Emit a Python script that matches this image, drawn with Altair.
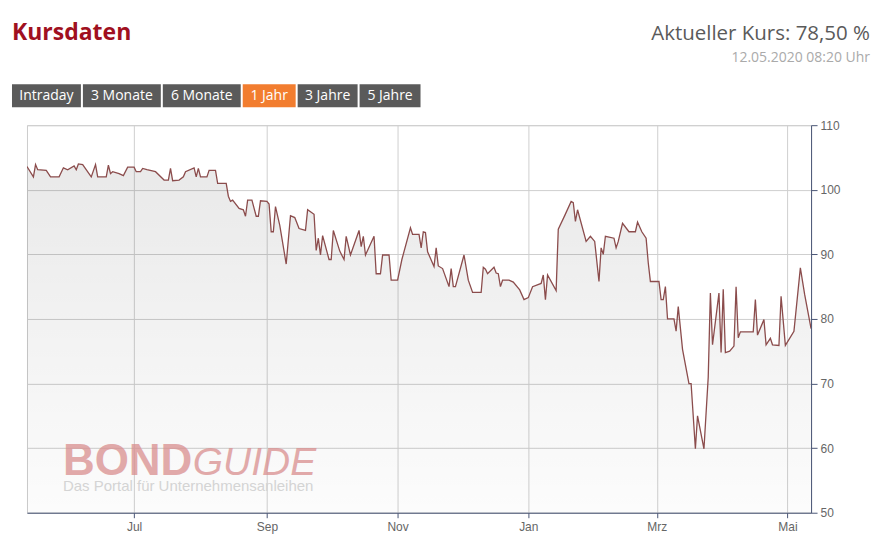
import altair as alt
import pandas as pd

# ---------------- data ----------------
dates = [
    "2019-05-12", "2019-05-15", "2019-05-16", "2019-05-17", "2019-05-21", "2019-05-23", "2019-05-27", "2019-05-29", "2019-05-31",
    "2019-06-03", "2019-06-04", "2019-06-05", "2019-06-07", "2019-06-11", "2019-06-13", "2019-06-14", "2019-06-18", "2019-06-19",
    "2019-06-20", "2019-06-21", "2019-06-24", "2019-06-26", "2019-06-28",
    "2019-07-01", "2019-07-02", "2019-07-04", "2019-07-05", "2019-07-07", "2019-07-11", "2019-07-15", "2019-07-17", "2019-07-18",
    "2019-07-19", "2019-07-22", "2019-07-24", "2019-07-25", "2019-07-29", "2019-07-30", "2019-07-31",
    "2019-08-01", "2019-08-04", "2019-08-05", "2019-08-08", "2019-08-09", "2019-08-13", "2019-08-14", "2019-08-15", "2019-08-16",
    "2019-08-19", "2019-08-21", "2019-08-22", "2019-08-23", "2019-08-25", "2019-08-27", "2019-08-28", "2019-08-29",
    "2019-09-01", "2019-09-02", "2019-09-03", "2019-09-04", "2019-09-05", "2019-09-07", "2019-09-10", "2019-09-12", "2019-09-14",
    "2019-09-16", "2019-09-19", "2019-09-20", "2019-09-23", "2019-09-24", "2019-09-25", "2019-09-26", "2019-09-27", "2019-09-30",
    "2019-10-01", "2019-10-02", "2019-10-05", "2019-10-07", "2019-10-08", "2019-10-10", "2019-10-14", "2019-10-15", "2019-10-16",
    "2019-10-17", "2019-10-21", "2019-10-22", "2019-10-24", "2019-10-25", "2019-10-28", "2019-10-29",
    "2019-11-01", "2019-11-03", "2019-11-07", "2019-11-08", "2019-11-11", "2019-11-12", "2019-11-13", "2019-11-14", "2019-11-15",
    "2019-11-18", "2019-11-19", "2019-11-20", "2019-11-22", "2019-11-25", "2019-11-26", "2019-11-27", "2019-11-28",
    "2019-12-02", "2019-12-04", "2019-12-06", "2019-12-10", "2019-12-11", "2019-12-12", "2019-12-13", "2019-12-16", "2019-12-17",
    "2019-12-18", "2019-12-19", "2019-12-20", "2019-12-23", "2019-12-25", "2019-12-28", "2019-12-30",
    "2020-01-01", "2020-01-03", "2020-01-07", "2020-01-08", "2020-01-09", "2020-01-10", "2020-01-14", "2020-01-15", "2020-01-18",
    "2020-01-21", "2020-01-22", "2020-01-23", "2020-01-24", "2020-01-28", "2020-01-30",
    "2020-02-01", "2020-02-03", "2020-02-04", "2020-02-05", "2020-02-06", "2020-02-10", "2020-02-11", "2020-02-12", "2020-02-14",
    "2020-02-17", "2020-02-20", "2020-02-21", "2020-02-23", "2020-02-25", "2020-02-26", "2020-02-27",
    "2020-03-02", "2020-03-03", "2020-03-04", "2020-03-05", "2020-03-06", "2020-03-09", "2020-03-10", "2020-03-11", "2020-03-13",
    "2020-03-16", "2020-03-17", "2020-03-19", "2020-03-20", "2020-03-23", "2020-03-25", "2020-03-26", "2020-03-27", "2020-03-30",
    "2020-03-31",
    "2020-04-01", "2020-04-02", "2020-04-04", "2020-04-06", "2020-04-07", "2020-04-08", "2020-04-09", "2020-04-15", "2020-04-16",
    "2020-04-17", "2020-04-20", "2020-04-21", "2020-04-23", "2020-04-24", "2020-04-27", "2020-04-28", "2020-04-30",
    "2020-05-04", "2020-05-07", "2020-05-09", "2020-05-12",
]

kurs = [
    103.6, 102.0, 103.9, 103.1, 103.0, 102.0, 102.0, 103.4, 103.1,
    103.7, 103.1, 104.0, 103.9, 102.0, 103.9, 102.0, 102.0, 103.8,
    102.5, 102.8, 102.5, 102.2, 103.5,
    103.5, 102.8, 102.8, 103.3, 103.1, 102.8, 101.5, 101.5, 103.3,
    101.4, 101.5, 102.0, 102.8, 103.4, 102.0, 103.3,
    102.0, 102.0, 103.0, 103.0, 101.0, 101.0, 99.0, 98.2, 98.4,
    97.1, 96.9, 95.9, 98.4, 98.4, 95.9, 95.9, 98.3,
    98.2, 97.8, 93.5, 93.5, 97.4, 94.5, 88.5, 96.0, 95.7,
    94.0, 93.7, 96.9, 96.2, 90.6, 92.5, 89.9, 92.9, 89.2,
    89.2, 93.7, 90.5, 89.2, 92.8, 89.9, 93.7, 91.2, 92.8,
    89.9, 92.8, 87.0, 87.0, 89.9, 89.9, 86.0,
    86.0, 89.2, 94.1, 93.1, 93.1, 91.0, 93.5, 93.4, 90.4,
    88.1, 91.0, 88.2, 87.8, 85.0, 87.8, 85.0, 85.0,
    89.9, 86.0, 84.1, 84.1, 88.0, 87.7, 87.0, 88.0, 87.1,
    87.0, 85.0, 86.0, 86.0, 85.7, 84.5, 83.0,
    83.3, 85.0, 85.5, 86.8, 83.0, 86.8, 84.4, 93.9, 96.0,
    98.2, 98.0, 95.1, 96.9, 92.0, 92.8,
    92.0, 85.8, 91.0, 90.0, 92.8, 92.5, 91.0, 92.0, 94.8,
    93.5, 93.5, 95.0, 93.5, 92.5, 88.7, 85.8,
    85.8, 83.0, 83.0, 85.0, 80.0, 80.0, 78.1, 81.9, 75.3,
    70.0, 70.0, 59.9, 65.0, 59.9, 71.0, 84.0, 76.0, 84.0,
    74.8,
    84.6, 74.8, 75.0, 75.8, 85.0, 77.1, 78.0, 78.0, 83.0,
    77.5, 79.9, 76.0, 77.0, 76.0, 75.9, 83.5, 75.9,
    78.1, 87.9, 83.8, 78.5,
]

y_ticks = [50, 60, 70, 80, 90, 100, 110]
month_names = ["Jan", "Feb", "Mrz", "Apr", "Mai", "Jun", "Jul", "Aug", "Sep", "Okt", "Nov", "Dez"]
x_ticks = [(2019, 7), (2019, 9), (2019, 11), (2020, 1), (2020, 3), (2020, 5)]

buttons = ["Intraday", "3 Monate", "6 Monate", "1 Jahr", "3 Jahre", "5 Jahre"]
active_button = "1 Jahr"

title_text = "Kursdaten"
kurs_text = "Aktueller Kurs: 78,50 %"
stamp_text = "12.05.2020 08:20 Uhr"

# ---------------- layout (pixels relative to plot origin) ----------------
W, H = 785, 388
button_edges = [(-15, 54), (56, 134), (136, 214), (216, 269), (271, 331), (333, 394)]
BTN_TOP, BTN_BOTTOM = -41, -18

df = pd.DataFrame({"datum": dates, "kurs": kurs})

AXIS_COL = "#4a5676"
GRID_COL = "#cfcfcf"

x_scale = alt.Scale(
    type="utc",
    domain=[alt.DateTime(year=2019, month=5, date=12, utc=True),
            alt.DateTime(year=2020, month=5, date=12, utc=True)],
)
y_scale = alt.Scale(domain=[50, 110], zero=False, nice=False)

month_expr = "[" + ",".join(f"'{m}'" for m in month_names) + "][utcmonth(datum.value)]"

x_enc = alt.X(
    "datum:T",
    scale=x_scale,
    axis=alt.Axis(
        values=[alt.DateTime(year=y, month=m, date=1, utc=True) for y, m in x_ticks],
        labelExpr=month_expr,
        title=None,
        grid=True,
        gridColor=GRID_COL,
        domainColor=AXIS_COL,
        tickColor=AXIS_COL,
        tickSize=5,
        labelColor="#666666",
        labelFont="Liberation Sans",
        labelFontSize=12,
        labelPadding=4,
        labelFlush=False,
    ),
)
y_enc = alt.Y(
    "kurs:Q",
    scale=y_scale,
    axis=alt.Axis(
        orient="right",
        values=y_ticks,
        title=None,
        grid=True,
        gridColor=GRID_COL,
        domainColor=AXIS_COL,
        tickColor=AXIS_COL,
        tickSize=6,
        labelColor="#666666",
        labelFont="Liberation Sans",
        labelFontSize=12,
        labelPadding=3,
        labelFlush=False,
    ),
)

base = alt.Chart(df)

area = base.mark_area(
    clip=True,
    color=alt.Gradient(
        gradient="linear",
        stops=[alt.GradientStop(color="rgba(0,0,0,0.085)", offset=0),
               alt.GradientStop(color="rgba(0,0,0,0.01)", offset=1)],
        x1=1, x2=1, y1=0, y2=1,
    ),
).encode(x=x_enc, y=y_enc, y2=alt.datum(50))

line = base.mark_line(clip=True, color="#8b4c4c", strokeWidth=1.3).encode(
    x=alt.X("datum:T", scale=x_scale), y=alt.Y("kurs:Q", scale=y_scale)
)


def text_layer(txt, x, y, **kw):
    return alt.Chart(pd.DataFrame({"t": [txt]})).mark_text(**kw).encode(
        x=alt.value(x), y=alt.value(y), text="t:N"
    )


wm_bond = text_layer("BOND", 36, 350, align="left", baseline="alphabetic",
                     font="Liberation Sans", fontSize=44, fontWeight="bold",
                     color="#d98f8f", opacity=0.75)
wm_guide = text_layer("GUIDE", 166, 350, align="left", baseline="alphabetic",
                      font="Liberation Sans", fontSize=39, fontStyle="italic",
                      color="#d98f8f", opacity=0.75)
wm_sub = text_layer("Das Portal für Unternehmensanleihen", 36, 366, align="left",
                    baseline="alphabetic", font="Liberation Sans", fontSize=15,
                    color="#d4d4d4")

title = text_layer(title_text, -15, -85, align="left", baseline="alphabetic",
                   font="Open Sans", fontSize=23, fontWeight="bold", color="#a01020")
kurs_lbl = text_layer(kurs_text, 844, -85, align="right", baseline="alphabetic",
                      font="Open Sans", fontSize=20.5, color="#5a5a5a")
stamp = text_layer(stamp_text, 844, -63, align="right", baseline="alphabetic",
                   font="Open Sans", fontSize=14, color="#aaaaaa")

btn_layers = []
for label, (x0, x1) in zip(buttons, button_edges):
    fill = "#f27d2f" if label == active_button else "#5a5a5a"
    btn_layers.append(
        alt.Chart(pd.DataFrame({"t": [label]})).mark_rect(color=fill).encode(
            x=alt.value(x0), x2=alt.value(x1), y=alt.value(BTN_TOP), y2=alt.value(BTN_BOTTOM)
        )
    )
    btn_layers.append(
        text_layer(label, (x0 + x1) / 2, (BTN_TOP + BTN_BOTTOM) / 2, align="center",
                   baseline="middle", font="Open Sans", fontSize=14, color="#ffffff")
    )

chart = alt.layer(
    area, wm_bond, wm_guide, wm_sub, line, title, kurs_lbl, stamp, *btn_layers
).properties(
    width=W,
    height=H,
    autosize=alt.AutoSizeParams(type="none"),
    padding={"left": 19, "top": 117, "right": 60, "bottom": 27},
    background="white",
).configure_view(stroke="#cccccc", strokeWidth=1)

chart.save("out.html", embed_options={"renderer": "svg", "actions": False})
